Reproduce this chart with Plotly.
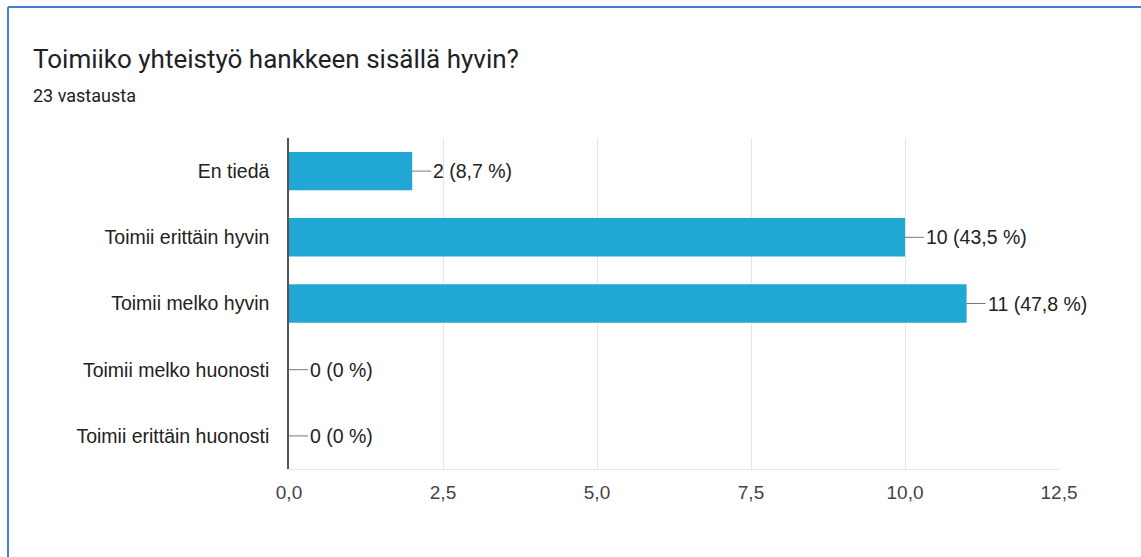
import plotly.graph_objects as go

categories = [
    "En tiedä",
    "Toimii erittäin hyvin",
    "Toimii melko hyvin",
    "Toimii melko huonosti",
    "Toimii erittäin huonosti",
]
counts = [2, 10, 11, 0, 0]
labels = ["2 (8,7 %)", "10 (43,5 %)", "11 (47,8 %)", "0 (0 %)", "0 (0 %)"]
x_ticks = [0, 2.5, 5, 7.5, 10, 12.5]

W, H = 1141, 557
ML, MR, MT, MB = 289, 82, 138, 88
PW, PH = W - ML - MR, H - MT - MB


def px_x(p):
    return (p - ML) / PW


def px_y(p):
    return 1 - (p - MT) / PH


fig = go.Figure(
    go.Bar(
        x=counts,
        y=categories,
        orientation="h",
        marker=dict(color="#20a7d3", line=dict(width=0)),
        hoverinfo="skip",
    )
)

# value labels with short leader line
for c, cat, lab in zip(counts, categories, labels):
    fig.add_annotation(
        x=c, y=cat, text=lab, showarrow=True, arrowhead=0, arrowwidth=1,
        arrowcolor="#777777", ax=19, ay=0, xanchor="left", yanchor="middle",
        standoff=0, font=dict(family="Liberation Sans, Arial", size=19.5, color="#222222"),
    )

# titles
fig.add_annotation(
    xref="paper", yref="paper", x=px_x(31), y=px_y(59), xanchor="left", yanchor="middle",
    text="Toimiiko yhteistyö hankkeen sisällä hyvin?", showarrow=False,
    font=dict(family="Roboto", size=26, color="#202124"),
)
fig.add_annotation(
    xref="paper", yref="paper", x=px_x(31), y=px_y(95), xanchor="left", yanchor="middle",
    text="23 vastausta", showarrow=False,
    font=dict(family="Roboto", size=18, color="#202124"),
)

# outer card border (open to the right and bottom)
fig.add_shape(
    type="line", xref="paper", yref="paper",
    x0=px_x(8), y0=px_y(7), x1=px_x(1160), y1=px_y(7),
    line=dict(color="#4a7cd0", width=2),
)
fig.add_shape(
    type="line", xref="paper", yref="paper",
    x0=px_x(8), y0=px_y(7), x1=px_x(8), y1=px_y(580),
    line=dict(color="#4a7cd0", width=2),
)

fig.update_layout(
    width=W, height=H,
    margin=dict(l=ML, r=MR, t=MT, b=MB),
    paper_bgcolor="white", plot_bgcolor="white",
    separators=",.",
    bargap=0.42,
    showlegend=False,
    font=dict(family="Liberation Sans, Arial", size=19, color="#333333"),
)
fig.update_xaxes(
    range=[0, 12.5], tickvals=x_ticks, tickformat=".1f",
    showgrid=True, gridcolor="#e6e6e6", gridwidth=1,
    showline=True, linecolor="#e6e6e6", zeroline=False,
    ticks="", ticklabelstandoff=6,
    tickfont=dict(size=19, color="#444444"),
)
fig.update_yaxes(
    categoryorder="array", categoryarray=categories[::-1],
    showgrid=False, showline=True, linecolor="#555555", linewidth=1.5,
    ticks="", ticklabelstandoff=14,
    tickfont=dict(size=19.5, color="#222222"),
)

fig.write_html(
    "out.html",
    config={"displayModeBar": False},
    post_script="document.body.style.margin='0';",
)
